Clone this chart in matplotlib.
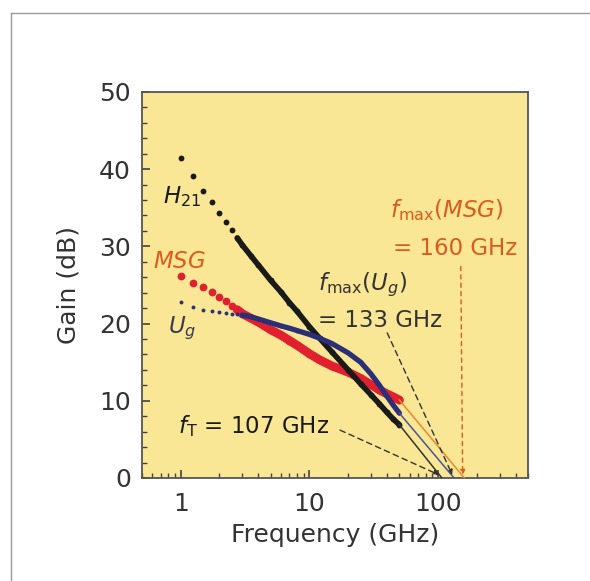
import matplotlib
matplotlib.use("Agg")
import matplotlib.pyplot as plt
from matplotlib.lines import Line2D
from matplotlib.ticker import MultipleLocator, LogLocator, NullFormatter, FixedLocator, FixedFormatter

plt.rcParams['font.family'] = ['DejaVu Sans']
plt.rcParams['mathtext.fontset'] = 'custom'
plt.rcParams['mathtext.rm'] = 'DejaVu Sans'
plt.rcParams['mathtext.it'] = 'DejaVu Sans:italic'

# ---- data ----
freq = [1, 1.25, 1.5, 1.75, 2, 2.25, 2.5, 2.75, 3, 3.5, 4, 5, 6, 7, 8,
        10, 12, 15, 20, 25, 30, 35, 40, 45, 50]
h21 = [41.4, 39.1, 37.2, 35.8, 34.3, 33.2, 32.1, 31.1, 30.2, 28.8, 27.6, 25.6,
       24.1, 22.7, 21.6, 19.6, 18.1, 16.3, 14.0, 12.2, 10.8, 9.6, 8.5, 7.6, 6.9]
msg = [26.1, 25.3, 24.7, 24.1, 23.5, 22.9, 22.3, 21.8, 21.3, 20.7, 20.2, 19.2,
       18.5, 17.8, 17.2, 16.1, 15.3, 14.5, 13.7, 12.9, 12.1, 11.4, 10.9, 10.5, 10.1]
ug = [22.8, 22.1, 21.8, 21.6, 21.5, 21.4, 21.3, 21.2, 21.1, 20.9, 20.6, 20.1,
      19.7, 19.4, 19.1, 18.6, 18.1, 17.4, 16.2, 15.0, 13.5, 12.0, 10.6, 9.4, 8.4]
f_t = 107
f_max_ug = 133
f_max_msg = 160
xticks = [1, 10, 100]
xticklabels = ['1', '10', '100']

BLACK = '#1a1a1a'
RED = '#e0202e'
NAVY = '#2b2f78'
ORANGE = '#dc5a1e'
TXT = '#333333'
BG = '#f9e795'

fig = plt.figure(figsize=(5.9, 5.81), dpi=100)
ax = fig.add_axes([0.2407, 0.1773, 0.6543, 0.6644])
ax.set_facecolor(BG)
ax.set_xscale('log')
ax.set_xlim(0.5, 500)
ax.set_ylim(0, 50)

start = 7  # index where the measured points merge into a band
# MSG
ax.plot(freq[start:], msg[start:], color=RED, lw=6.3, solid_capstyle='round', zorder=2)
ax.plot(freq, msg, 'o', color=RED, ms=5.6, mew=0, zorder=2)
# H21
ax.plot(freq[start:], h21[start:], color=BLACK, lw=4.0, solid_capstyle='round', zorder=3)
ax.plot(freq, h21, 'o', color=BLACK, ms=4.2, mew=0, zorder=3)
# Ug
ax.plot(freq[start+1:], ug[start+1:], color=NAVY, lw=3.8, solid_capstyle='round', zorder=4)
ax.plot(freq, ug, 'o', color=NAVY, ms=2.8, mew=0, zorder=4)

# extrapolation lines (thin) from last measured points to 0 dB
ax.plot([freq[-1], f_t], [h21[-1], 0], color='#333333', lw=1.1, zorder=5)
ax.plot([freq[-1], f_max_ug], [ug[-1], 0], color='#4a5590', lw=1.1, zorder=5)
ax.plot([freq[-1], f_max_msg], [msg[-1], 0], color='#e88a30', lw=1.1, zorder=5)

# dashed annotation arrows
ap = dict(arrowstyle='-|>', mutation_scale=7, lw=1.0, linestyle=(0, (4, 3)), shrinkA=0, shrinkB=0)
ax.annotate('', xy=(f_t * 0.95, 0.4), xytext=(17.3, 6.2),
            arrowprops=dict(ap, color='#333333'), zorder=6)
ax.annotate('', xy=(f_max_ug * 0.97, 0.4), xytext=(40.2, 18.8),
            arrowprops=dict(ap, color='#333333'), zorder=6)
ax.annotate('', xy=(f_max_msg * 0.97, 0.4), xytext=(150, 27.4),
            arrowprops=dict(ap, color=ORANGE, linestyle=(0, (3, 3))), zorder=6)

# text labels
fs = 16.5
ax.text(0.726, 35.6, r'$H_{21}$', color=BLACK, fontsize=fs, va='baseline', ha='left')
ax.text(0.607, 27.2, r'$MSG$', color=ORANGE, fontsize=fs, va='baseline', ha='left')
ax.text(0.793, 18.8, r'$U_g$', color='#3a3a50', fontsize=fs, va='baseline', ha='left')
ax.text(11.7, 24.35, r'$f_{\mathrm{max}}(U_g)$', color=TXT, fontsize=fs, va='baseline', ha='left')
ax.text(11.7, 19.56, '= 133 GHz', color=TXT, fontsize=fs, va='baseline', ha='left')
ax.text(42, 33.8, r'$f_{\mathrm{max}}(MSG)$', color=ORANGE, fontsize=fs, va='baseline', ha='left')
ax.text(44.5, 28.9, '= 160 GHz', color=ORANGE, fontsize=fs, va='baseline', ha='left')
ax.text(0.95, 5.83, r'$f_{\mathrm{T}}$ = 107 GHz', color=BLACK, fontsize=fs, va='baseline', ha='left')

# ticks
ax.yaxis.set_major_locator(MultipleLocator(10))
ax.yaxis.set_minor_locator(MultipleLocator(2))
ax.xaxis.set_major_locator(FixedLocator(xticks))
ax.xaxis.set_major_formatter(FixedFormatter(xticklabels))
ax.xaxis.set_minor_locator(LogLocator(base=10, subs=range(2, 10), numticks=20))
ax.xaxis.set_minor_formatter(NullFormatter())
ax.tick_params(axis='both', which='major', direction='in', length=6, width=1.2,
               color='#444444', labelsize=18, labelcolor=TXT)
ax.tick_params(axis='x', which='major', pad=10)
ax.tick_params(axis='y', which='major', pad=8)
ax.tick_params(axis='both', which='minor', direction='in', length=3.5, width=1.0, color='#444444')
ax.tick_params(top=False, right=False)
for s in ax.spines.values():
    s.set_color('#555555')
    s.set_linewidth(1.3)

ax.set_xlabel('Frequency (GHz)', fontsize=18, color=TXT, labelpad=5)
ax.set_ylabel('Gain (dB)', fontsize=18, color=TXT, labelpad=13)

# outer panel frame lines
fig.add_artist(Line2D([11/590, 1.0], [1 - 12.7/581, 1 - 12.7/581], transform=fig.transFigure,
                      color='#9a9a9a', lw=1.0))
fig.add_artist(Line2D([11/590, 11/590], [0, 1 - 12.7/581], transform=fig.transFigure,
                      color='#9a9a9a', lw=1.0))

fig.savefig('out.png', dpi=100)
